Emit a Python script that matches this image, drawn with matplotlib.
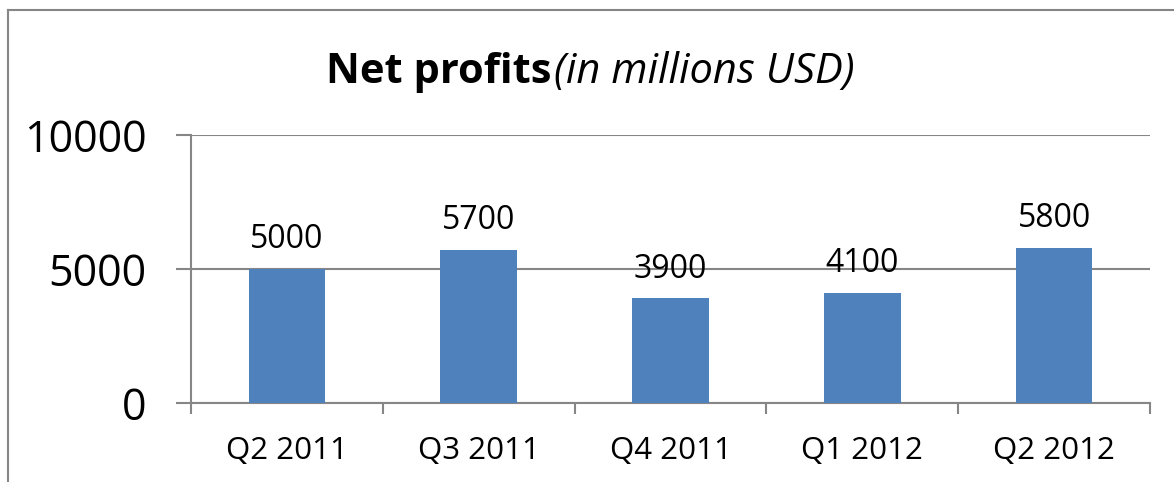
import matplotlib.pyplot as plt
from matplotlib.lines import Line2D

plt.rcParams["font.family"] = ["Open Sans", "DejaVu Sans"]

# Chart data
quarters = ["Q2 2011", "Q3 2011", "Q4 2011", "Q1 2012", "Q2 2012"]
profits = [5000, 5700, 3900, 4100, 5800]
y_ticks = [0, 5000, 10000]

BAR_COLOR = "#4F81BD"
GRID_COLOR = "#868686"

fig = plt.figure(figsize=(11.74, 4.82), dpi=100)
ax = fig.add_axes([191 / 1174, 1 - 403 / 482, (1150 - 191) / 1174, (403 - 135) / 482])

x = list(range(len(quarters)))
ax.bar(x, profits, width=0.4, color=BAR_COLOR, zorder=3)

for xi, v in zip(x, profits):
    ax.annotate(str(v), (xi, v), xytext=(0, 15), textcoords="offset points",
                ha="center", va="baseline", fontsize=23)

ax.set_xlim(-0.5, len(quarters) - 0.5)
ax.set_ylim(0, 10000)
ax.set_yticks(y_ticks)
ax.set_yticklabels([str(t) for t in y_ticks], fontsize=31)
ax.yaxis.grid(True, color=GRID_COLOR, linewidth=1.5, zorder=0)

ax.set_xticks(x)
ax.set_xticklabels(quarters, fontsize=22.5)
ax.tick_params(axis="x", length=0, pad=24)
# boundary ticks between categories
ax.set_xticks([i - 0.5 for i in range(len(quarters) + 1)], minor=True)
ax.tick_params(axis="x", which="minor", length=8, width=1.5, color=GRID_COLOR)
ax.tick_params(axis="y", length=11, width=1.5, color=GRID_COLOR, pad=21)

for side in ["top", "right"]:
    ax.spines[side].set_visible(False)
for side in ["left", "bottom"]:
    ax.spines[side].set_color(GRID_COLOR)
    ax.spines[side].set_linewidth(1.5)

# title: bold part + italic part
fig.text(552 / 1174, 1 - 83 / 482, "Net profits", fontsize=30, fontweight="bold",
         ha="right", va="baseline")
fig.text(554 / 1174, 1 - 83 / 482, "(in millions USD)", fontsize=30, fontstyle="italic",
         ha="left", va="baseline")

# chart frame
fig.add_artist(Line2D([8 / 1174, 8 / 1174], [0, 1 - 10 / 482], color=GRID_COLOR, lw=1.5))
fig.add_artist(Line2D([8 / 1174, 1], [1 - 10 / 482, 1 - 10 / 482], color=GRID_COLOR, lw=1.5))

fig.savefig("out.png", dpi=100)
